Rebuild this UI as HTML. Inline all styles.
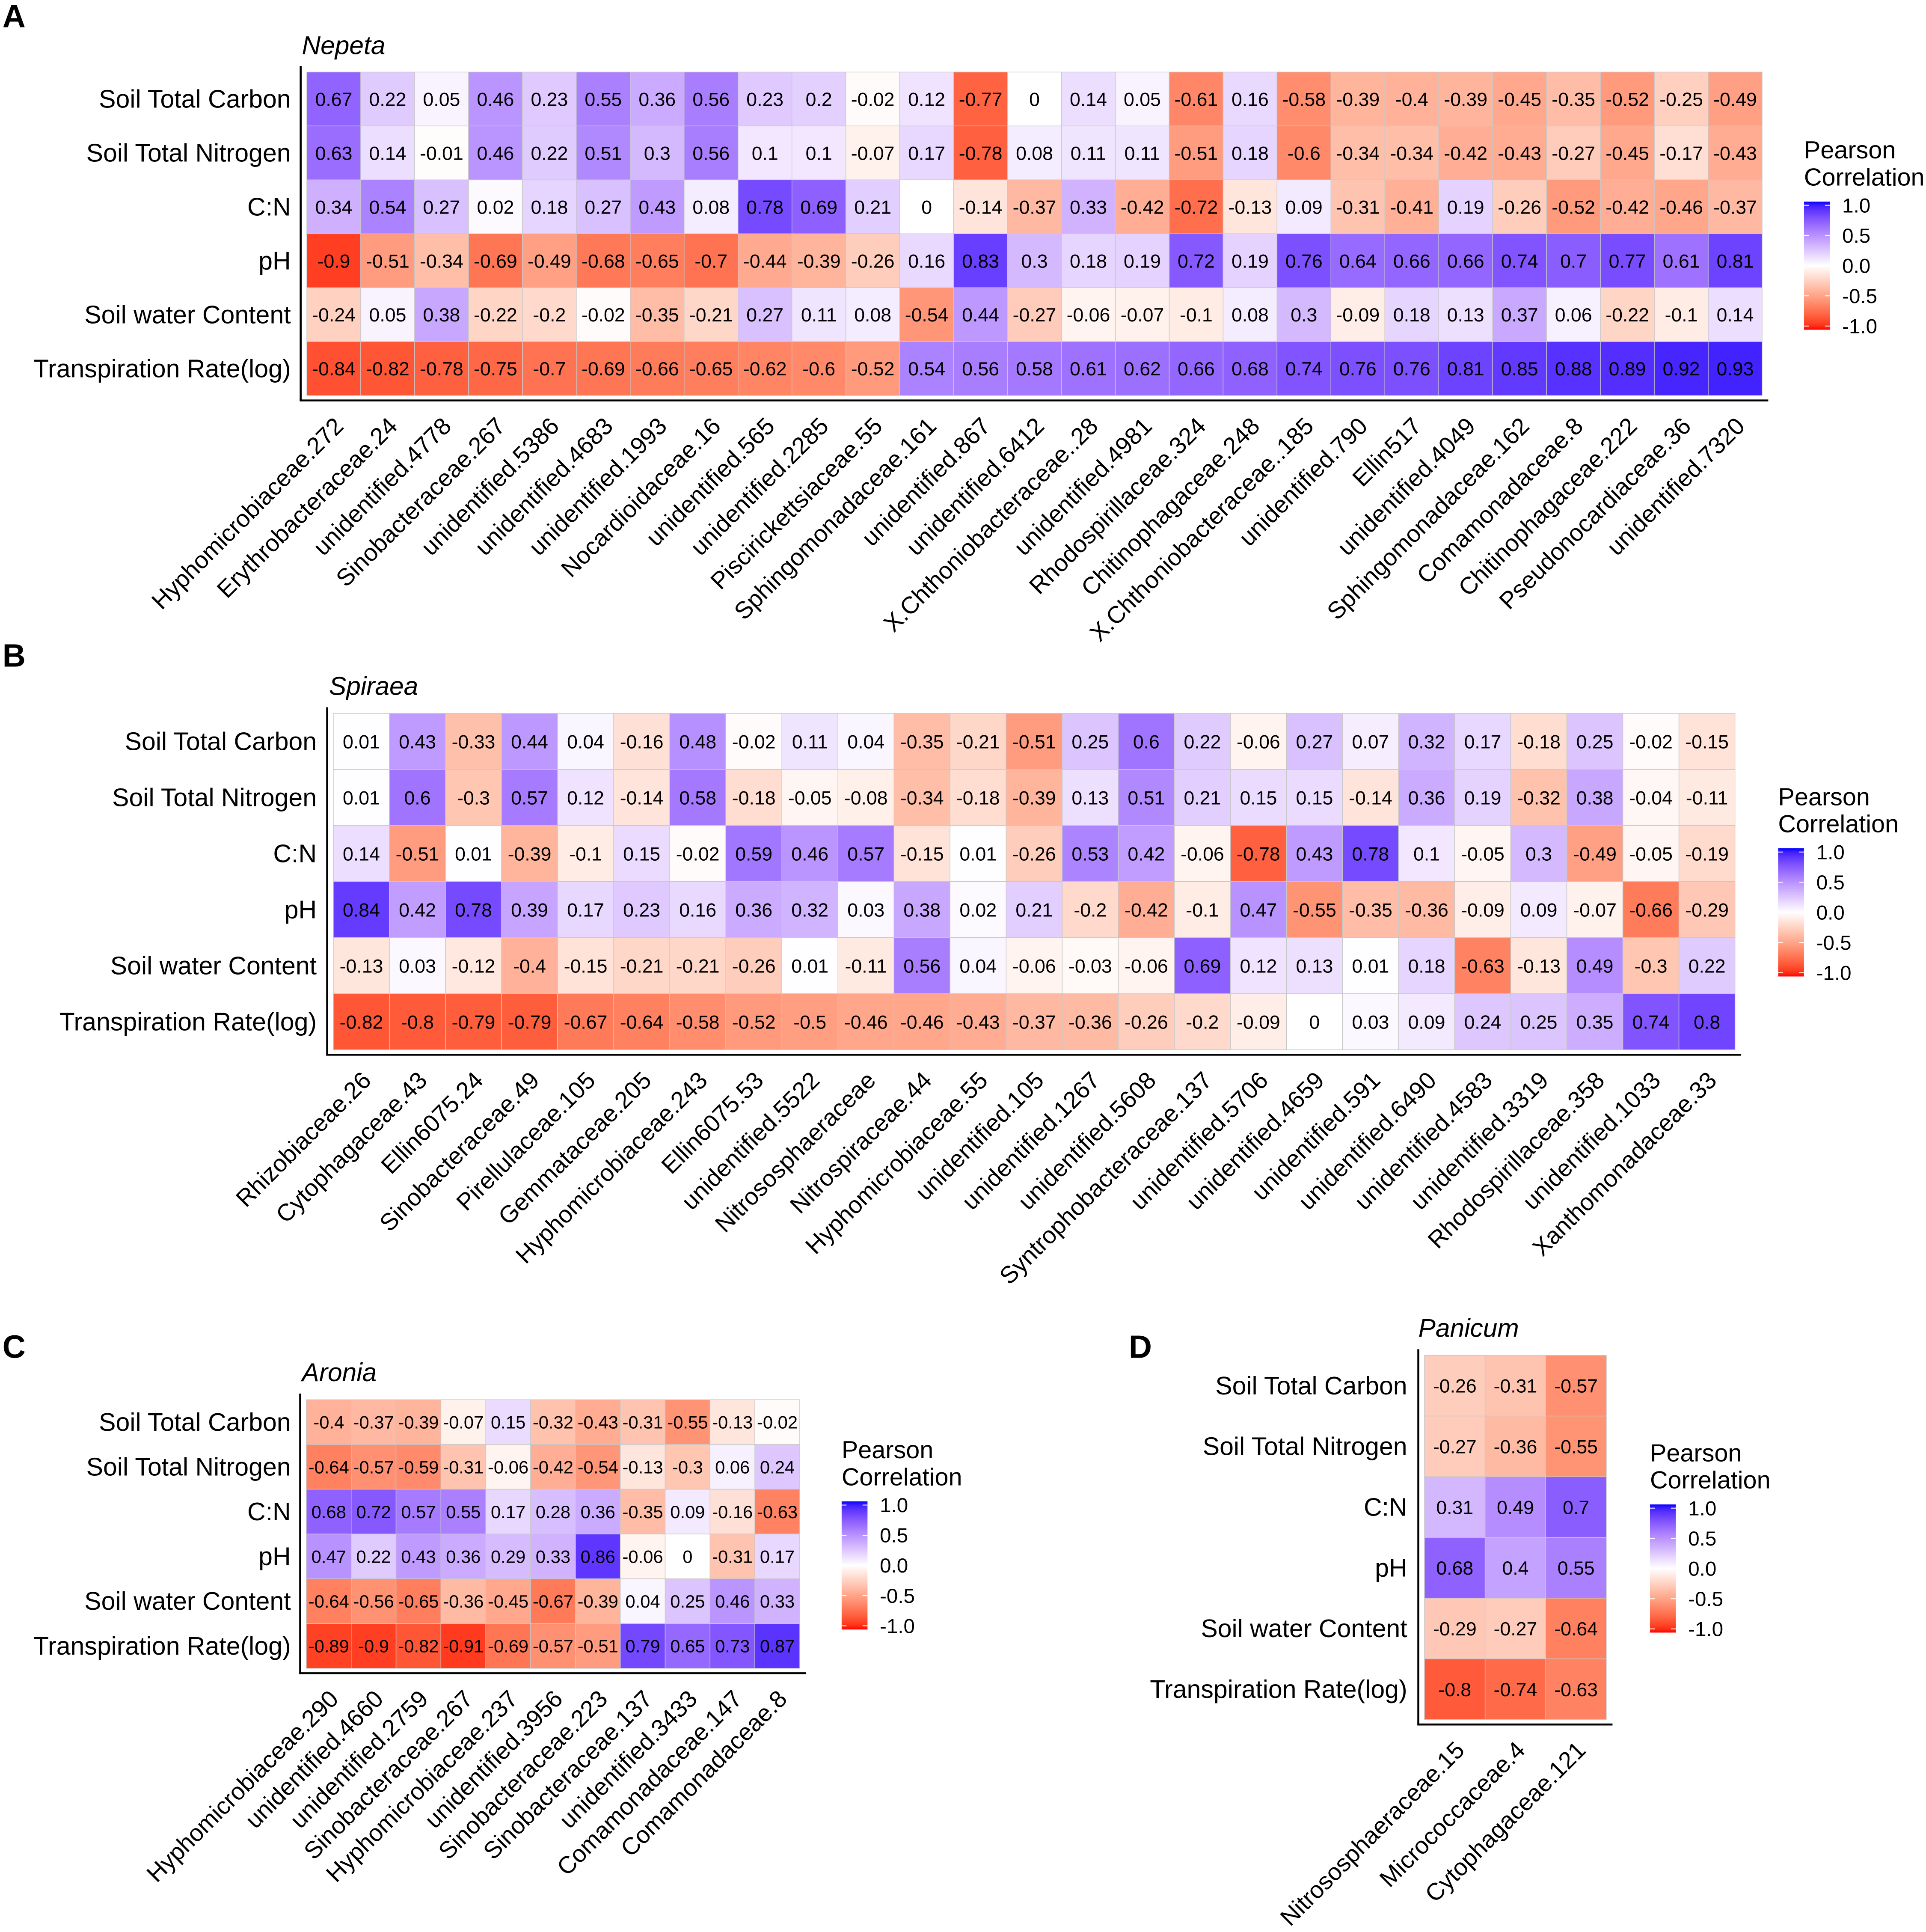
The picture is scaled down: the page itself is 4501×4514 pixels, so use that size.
<!DOCTYPE html>
<html><head><meta charset="utf-8"><style>
html,body{margin:0;padding:0;background:#fff;}
svg{display:block;font-family:"Liberation Sans",Arial,sans-serif;}
</style></head><body>
<svg id="fig" xmlns="http://www.w3.org/2000/svg" width="4501" height="4514" viewBox="0 0 1563 1568" preserveAspectRatio="none">
<rect x="0" y="0" width="1563" height="1568" fill="#fff"/>
</svg>
<script>
const rowLabels = ["Soil Total Carbon","Soil Total Nitrogen","C:N","pH","Soil water Content","Transpiration Rate(log)"];
const legendTicks = [1.0,0.5,0.0,-0.5,-1.0];
const legendTickLabels = ["1.0","0.5","0.0","-0.5","-1.0"];

const colsA = ["Hyphomicrobiaceae.272","Erythrobacteraceae.24","unidentified.4778","Sinobacteraceae.267","unidentified.5386","unidentified.4683","unidentified.1993","Nocardioidaceae.16","unidentified.565","unidentified.2285","Piscirickettsiaceae.55","Sphingomonadaceae.161","unidentified.867","unidentified.6412","X.Chthoniobacteraceae..28","unidentified.4981","Rhodospirillaceae.324","Chitinophagaceae.248","X.Chthoniobacteraceae..185","unidentified.790","Ellin517","unidentified.4049","Sphingomonadaceae.162","Comamonadaceae.8","Chitinophagaceae.222","Pseudonocardiaceae.36","unidentified.7320"];
const stcA = [0.67,0.22,0.05,0.46,0.23,0.55,0.36,0.56,0.23,0.2,-0.02,0.12,-0.77,0,0.14,0.05,-0.61,0.16,-0.58,-0.39,-0.4,-0.39,-0.45,-0.35,-0.52,-0.25,-0.49];
const stnA = [0.63,0.14,-0.01,0.46,0.22,0.51,0.3,0.56,0.1,0.1,-0.07,0.17,-0.78,0.08,0.11,0.11,-0.51,0.18,-0.6,-0.34,-0.34,-0.42,-0.43,-0.27,-0.45,-0.17,-0.43];
const cnA = [0.34,0.54,0.27,0.02,0.18,0.27,0.43,0.08,0.78,0.69,0.21,0,-0.14,-0.37,0.33,-0.42,-0.72,-0.13,0.09,-0.31,-0.41,0.19,-0.26,-0.52,-0.42,-0.46,-0.37];
const phA = [-0.9,-0.51,-0.34,-0.69,-0.49,-0.68,-0.65,-0.7,-0.44,-0.39,-0.26,0.16,0.83,0.3,0.18,0.19,0.72,0.19,0.76,0.64,0.66,0.66,0.74,0.7,0.77,0.61,0.81];
const swcA = [-0.24,0.05,0.38,-0.22,-0.2,-0.02,-0.35,-0.21,0.27,0.11,0.08,-0.54,0.44,-0.27,-0.06,-0.07,-0.1,0.08,0.3,-0.09,0.18,0.13,0.37,0.06,-0.22,-0.1,0.14];
const trA = [-0.84,-0.82,-0.78,-0.75,-0.7,-0.69,-0.66,-0.65,-0.62,-0.6,-0.52,0.54,0.56,0.58,0.61,0.62,0.66,0.68,0.74,0.76,0.76,0.81,0.85,0.88,0.89,0.92,0.93];

const colsB = ["Rhizobiaceae.26","Cytophagaceae.43","Ellin6075.24","Sinobacteraceae.49","Pirellulaceae.105","Gemmataceae.205","Hyphomicrobiaceae.243","Ellin6075.53","unidentified.5522","Nitrososphaeraceae","Nitrospiraceae.44","Hyphomicrobiaceae.55","unidentified.105","unidentified.1267","unidentified.5608","Syntrophobacteraceae.137","unidentified.5706","unidentified.4659","unidentified.591","unidentified.6490","unidentified.4583","unidentified.3319","Rhodospirillaceae.358","unidentified.1033","Xanthomonadaceae.33"];
const stcB = [0.01,0.43,-0.33,0.44,0.04,-0.16,0.48,-0.02,0.11,0.04,-0.35,-0.21,-0.51,0.25,0.6,0.22,-0.06,0.27,0.07,0.32,0.17,-0.18,0.25,-0.02,-0.15];
const stnB = [0.01,0.6,-0.3,0.57,0.12,-0.14,0.58,-0.18,-0.05,-0.08,-0.34,-0.18,-0.39,0.13,0.51,0.21,0.15,0.15,-0.14,0.36,0.19,-0.32,0.38,-0.04,-0.11];
const cnB = [0.14,-0.51,0.01,-0.39,-0.1,0.15,-0.02,0.59,0.46,0.57,-0.15,0.01,-0.26,0.53,0.42,-0.06,-0.78,0.43,0.78,0.1,-0.05,0.3,-0.49,-0.05,-0.19];
const phB = [0.84,0.42,0.78,0.39,0.17,0.23,0.16,0.36,0.32,0.03,0.38,0.02,0.21,-0.2,-0.42,-0.1,0.47,-0.55,-0.35,-0.36,-0.09,0.09,-0.07,-0.66,-0.29];
const swcB = [-0.13,0.03,-0.12,-0.4,-0.15,-0.21,-0.21,-0.26,0.01,-0.11,0.56,0.04,-0.06,-0.03,-0.06,0.69,0.12,0.13,0.01,0.18,-0.63,-0.13,0.49,-0.3,0.22];
const trB = [-0.82,-0.8,-0.79,-0.79,-0.67,-0.64,-0.58,-0.52,-0.5,-0.46,-0.46,-0.43,-0.37,-0.36,-0.26,-0.2,-0.09,0,0.03,0.09,0.24,0.25,0.35,0.74,0.8];

const colsC = ["Hyphomicrobiaceae.290","unidentified.4660","unidentified.2759","Sinobacteraceae.267","Hyphomicrobiaceae.237","unidentified.3956","Sinobacteraceae.223","Sinobacteraceae.137","unidentified.3433","Comamonadaceae.147","Comamonadaceae.8"];
const stcC = [-0.4,-0.37,-0.39,-0.07,0.15,-0.32,-0.43,-0.31,-0.55,-0.13,-0.02];
const stnC = [-0.64,-0.57,-0.59,-0.31,-0.06,-0.42,-0.54,-0.13,-0.3,0.06,0.24];
const cnC = [0.68,0.72,0.57,0.55,0.17,0.28,0.36,-0.35,0.09,-0.16,-0.63];
const phC = [0.47,0.22,0.43,0.36,0.29,0.33,0.86,-0.06,0,-0.31,0.17];
const swcC = [-0.64,-0.56,-0.65,-0.36,-0.45,-0.67,-0.39,0.04,0.25,0.46,0.33];
const trC = [-0.89,-0.9,-0.82,-0.91,-0.69,-0.57,-0.51,0.79,0.65,0.73,0.87];

const colsD = ["Nitrososphaeraceae.15","Micrococcaceae.4","Cytophagaceae.121"];
const stcD = [-0.26,-0.31,-0.57];
const stnD = [-0.27,-0.36,-0.55];
const cnD = [0.31,0.49,0.7];
const phD = [0.68,0.4,0.55];
const swcD = [-0.29,-0.27,-0.64];
const trD = [-0.8,-0.74,-0.63];

const NS = "http://www.w3.org/2000/svg";
const svg = document.getElementById('fig');
function mk(tag, attrs, parent){ const e=document.createElementNS(NS,tag); for(const k in attrs) e.setAttribute(k,attrs[k]); (parent||svg).appendChild(e); return e; }

function s2l(c){c/=255;return c<=0.04045?c/12.92:Math.pow((c+0.055)/1.055,2.4);}
function l2s(c){c=c<=0.0031308?12.92*c:1.055*Math.pow(c,1/2.4)-0.055;return Math.round(Math.max(0,Math.min(1,c))*255);}
function toLab(r,g,b){r=s2l(r);g=s2l(g);b=s2l(b);
 let X=(0.4124*r+0.3576*g+0.1805*b)/0.95047,Y=(0.2126*r+0.7152*g+0.0722*b),Z=(0.0193*r+0.1192*g+0.9505*b)/1.08883;
 const f=t=>t>0.008856?Math.cbrt(t):7.787*t+16/116; X=f(X);Y=f(Y);Z=f(Z);
 return [116*Y-16,500*(X-Y),200*(Y-Z)];}
function fromLab(L,a,b){let Y=(L+16)/116,X=a/500+Y,Z=Y-b/200;
 const fi=t=>t*t*t>0.008856?t*t*t:(t-16/116)/7.787; X=fi(X)*0.95047;Y=fi(Y);Z=fi(Z)*1.08883;
 const r=3.2406*X-1.5372*Y-0.4986*Z,g=-0.9689*X+1.8758*Y+0.0415*Z,bb=0.0557*X-0.2040*Y+1.0570*Z;
 return 'rgb('+l2s(r)+','+l2s(g)+','+l2s(bb)+')';}
const LW=toLab(255,255,255),LR=toLab(255,0,0),LB=toLab(0,0,255);
function col(v){v=Math.max(-1,Math.min(1,v));const t=Math.abs(v),E=v<0?LR:LB;
 return fromLab(LW[0]+(E[0]-LW[0])*t,LW[1]+(E[1]-LW[1])*t,LW[2]+(E[2]-LW[2])*t);}

function panel(p){
 const g=mk('g',{});
 
 
 const nC=p.cols.length,nR=p.rows.length;
 const cw=(p.x1-p.x0)/nC, rh=(p.y1-p.y0)/nR;
 const xs=i=>p.x0+i*cw, ys=j=>p.y0+j*rh;
 const lt=mk('text',{x:p.letter[0],y:p.letter[1],'font-size':26,'font-weight':'bold',fill:'#000'},g);
 lt.textContent=p.key.toUpperCase();
 
 
 const tt=mk('text',{x:p.title[0],y:p.title[1],'font-size':21,'font-style':'italic',fill:'#000'},g);
 tt.textContent=p.name;
 
 
 for(let j=0;j<nR;j++){
  const vals=p.rows[j];
  for(let i=0;i<nC;i++){
   const r=mk('rect',{x:xs(i),y:ys(j),width:cw,height:rh,fill:col(vals[i]),stroke:'#c8c8c8','stroke-width':0.5},g);
   
   
   const t=mk('text',{x:xs(i)+cw/2,y:ys(j)+rh/2+p.fs*0.36,'font-size':p.fs,'text-anchor':'middle',fill:'#000'},g);
   t.textContent=String(vals[i]);
   
   
  }
  const rl=mk('text',{x:p.labEnd,y:ys(j)+rh/2+7,'font-size':20.5,'text-anchor':'end',fill:'#000'},g);
  rl.textContent=rowLabels[j];
  
  
 }
 const ax=p.x0-5, ay=p.y1+4;
 const la=mk('line',{x1:ax,y1:p.y0-5,x2:ax,y2:ay,stroke:'#000','stroke-width':1.6},g);
 
 
 const ba=mk('line',{x1:ax-0.8,y1:ay,x2:p.x1+5,y2:ay,stroke:'#000','stroke-width':1.6},g);
 
 
 for(let i=0;i<nC;i++){
  const cx=xs(i)+cw/2-1, cy=ay+12;
  const t=mk('text',{x:cx,y:cy,'font-size':19.5,'text-anchor':'end','dominant-baseline':'hanging',transform:'rotate(-45 '+cx+' '+cy+')',fill:'#000'},g);
  t.textContent=p.cols[i];
  
  
 }
 const L=p.legend, bw=21, bh=104;
 const lg=mk('g',{},g);
 
 
 const t1=mk('text',{x:L[0],y:L[1]-35,'font-size':20,fill:'#000'},lg); t1.textContent='Pearson';
 
 
 const t2=mk('text',{x:L[0],y:L[1]-13,'font-size':20,fill:'#000'},lg); t2.textContent='Correlation';
 
 
 const gid='grad'+p.key;
 const defs=mk('defs',{},lg);
 const lgd=mk('linearGradient',{id:gid,x1:0,y1:0,x2:0,y2:1},defs);
 for(let k=0;k<=40;k++){const v=1-2*k/40; mk('stop',{offset:(k/40),'stop-color':col(v)},lgd);}
 const bar=mk('rect',{x:L[0],y:L[1],width:bw,height:bh,fill:'url(#'+gid+')'},lg);
 
 
 for(let k=0;k<legendTicks.length;k++){
  const ty=L[1]+3+(1-legendTicks[k])/2*(bh-6);
  mk('line',{x1:L[0],y1:ty,x2:L[0]+4,y2:ty,stroke:'#fff','stroke-width':0.7},lg);
  mk('line',{x1:L[0]+bw-4,y1:ty,x2:L[0]+bw,y2:ty,stroke:'#fff','stroke-width':0.7},lg);
  const tl=mk('text',{x:L[0]+bw+10,y:ty+5.8,'font-size':16.5,fill:'#000'},lg);
  tl.textContent=legendTickLabels[k];
  
  
 }
}

panel({key:'a',name:'Nepeta',cols:colsA,rows:[stcA,stnA,cnA,phA,swcA,trA],x0:249,x1:1430,y0:58.5,y1:321,fs:15.5,labEnd:236,letter:[2,22],title:[245,44],legend:[1464,163.6]});
panel({key:'b',name:'Spiraea',cols:colsB,rows:[stcB,stnB,cnB,phB,swcB,trB],x0:270.5,x1:1408,y0:579,y1:852,fs:15.5,labEnd:257,letter:[2,541],title:[267,564],legend:[1443,688.5]});
panel({key:'c',name:'Aronia',cols:colsC,rows:[stcC,stnC,cnC,phC,swcC,trC],x0:248.6,x1:649,y0:1136,y1:1354,fs:14.5,labEnd:236,letter:[2,1102],title:[245,1121],legend:[683,1218.5]});
panel({key:'d',name:'Panicum',cols:colsD,rows:[stcD,stnD,cnD,phD,swcD,trD],x0:1156,x1:1303.6,y0:1100,y1:1395.6,fs:15.5,labEnd:1142,letter:[916,1102],title:[1151,1085],legend:[1339,1221]});
</script>
</body></html>
